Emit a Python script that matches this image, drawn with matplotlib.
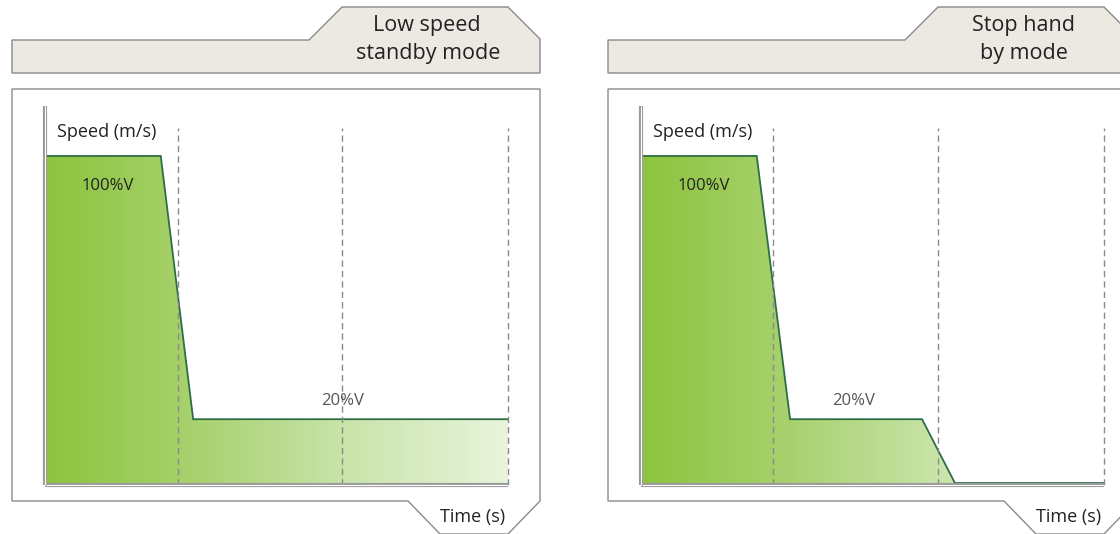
import numpy as np
import matplotlib
matplotlib.use("Agg")
from matplotlib import pyplot as plt
from matplotlib.patches import Polygon
from matplotlib.colors import LinearSegmentedColormap

plt.rcParams['font.family'] = ['Open Sans', 'DejaVu Sans']

# data: speed profiles (time in arbitrary units, speed in % of V)
titles = [["Low speed", "standby mode"], ["Stop hand", "by mode"]]
time_left = [0, 2.5, 3.2, 10]
speed_left = [100, 100, 20, 20]
time_right = [0, 2.5, 3.22, 6.07, 6.78, 10]
speed_right = [100, 100, 20, 20, 0.6, 0.6]
dash_left = [2.87, 6.41, 10]
dash_right = [2.85, 6.41, 10]
label_high = "100%V"
label_low = "20%V"
label_high_pos = [(1.35, 91), (1.35, 91)]
label_low_pos = [(6.43, 25.5), (4.6, 25.5)]

W, H = 1120, 534
fig = plt.figure(figsize=(W / 100, H / 100), dpi=100)

# decoration layer in pixel coordinates
deco = fig.add_axes([0, 0, 1, 1])
deco.set_xlim(0, W)
deco.set_ylim(H, 0)
deco.axis('off')

edge = '#8a8a8a'
tab_shape = [(12, 73), (12, 40), (309, 40), (342, 7), (508, 7), (540, 39), (540, 73)]
box_shape = [(12, 89), (540, 89), (540, 501), (508, 534), (440, 534), (408, 501), (12, 501)]

green_cmap = LinearSegmentedColormap.from_list('g', ['#8cc43e', '#a9d270', '#cbe5ad', '#e8f4dc'])

panels = [(time_left, speed_left, dash_left), (time_right, speed_right, dash_right)]

for i, (tt, vv, dd) in enumerate(panels):
    ox = 596 * i
    deco.add_patch(Polygon([(x + ox, y) for x, y in tab_shape], closed=True,
                           facecolor='#ece8e2', edgecolor=edge, lw=1))
    deco.add_patch(Polygon([(x + ox, y) for x, y in box_shape], closed=True,
                           facecolor='white', edgecolor=edge, lw=1))
    deco.text(427 + ox, 25, titles[i][0], ha='center', va='center',
              fontsize=15.5, color='#222222')
    deco.text(428 + ox, 54, titles[i][1], ha='center', va='center',
              fontsize=15.5, color='#222222')
    deco.text(473 + ox, 517, "Time (s)", ha='center', va='center', fontsize=13,
              color='#222222')

    # plot axes
    x0, x1 = 45 + ox, 508 + ox
    y_top, y_bot = 106, 485
    ax = fig.add_axes([x0 / W, (H - y_bot) / H, (x1 - x0) / W, (y_bot - y_top) / H])
    ax.axis('off')
    ylim_top = (y_bot - y_top) / 3.29

    pts = list(zip(tt, vv)) + [(tt[-1], 0), (tt[0], 0)]
    clip = Polygon(pts, closed=True, facecolor='none', edgecolor='none',
                   transform=ax.transData)
    ax.add_patch(clip)
    grad = np.linspace(0, 1, 256).reshape(1, -1)
    im = ax.imshow(grad, extent=[tt[0], tt[-1], 0, 100], aspect='auto',
                   cmap=green_cmap, zorder=1)
    im.set_clip_path(clip)
    ax.plot(tt, vv, color='#2d6e45', lw=1.3, zorder=3, solid_joinstyle='miter')

    ax.vlines(dd, 0, (y_bot - 128) / 3.29, colors='#8a8a8a', lw=1,
              linestyles=(0, (4.5, 3)), zorder=4, clip_on=False)

    # axis lines (double grey)
    ax.plot([0, 0], [0, ylim_top], color='#9a9a9a', lw=3, zorder=5, clip_on=False,
            solid_capstyle='butt')
    ax.plot([0, 0], [0, ylim_top], color='white', lw=0.8, zorder=6, clip_on=False,
            solid_capstyle='butt')
    ax.plot([0, 10], [0, 0], color='#9a9a9a', lw=3, zorder=5, clip_on=False,
            solid_capstyle='butt')
    ax.plot([0.03, 10], [0, 0], color='white', lw=0.8, zorder=6, clip_on=False,
            solid_capstyle='butt')

    ax.text(0.25, 107.2, "Speed (m/s)", ha='left', va='center', fontsize=13,
            color='#222222')
    ax.text(label_high_pos[i][0], label_high_pos[i][1], label_high, ha='center',
            va='center', fontsize=12, color='#222222', zorder=7)
    ax.text(label_low_pos[i][0], label_low_pos[i][1], label_low, ha='center',
            va='center', fontsize=12, color='#555555', zorder=7)

    ax.set_xlim(0, 10)
    ax.set_ylim(0, ylim_top)

fig.savefig('out.png', dpi=100)
